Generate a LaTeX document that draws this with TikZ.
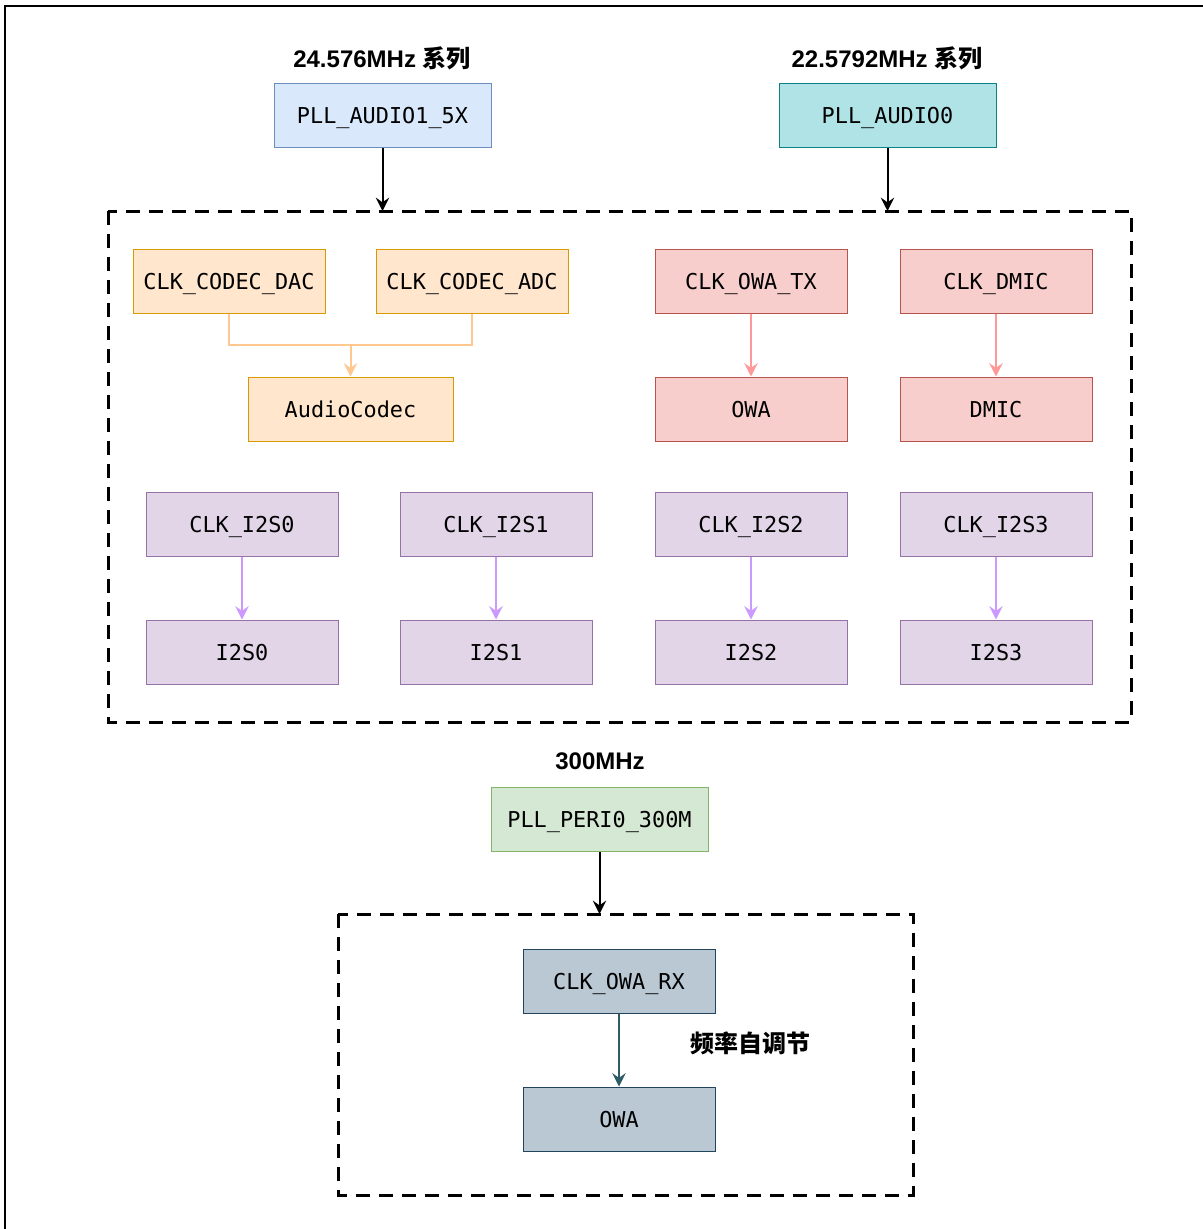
\documentclass[tikz,border=0pt]{standalone}
\usepackage{fontspec}
\setmainfont{Liberation Sans}
\setmonofont{DejaVu Sans Mono}
\newfontfamily\cjk{Noto Sans CJK SC}
\usetikzlibrary{arrows.meta}

\definecolor{blueF}{HTML}{DAE8FC}  \definecolor{blueD}{HTML}{6C8EBF}
\definecolor{tealF}{HTML}{B0E3E6}  \definecolor{tealD}{HTML}{0E8088}
\definecolor{orgF}{HTML}{FFE6CC}   \definecolor{orgD}{HTML}{D79B00}  \definecolor{orgL}{HTML}{FFC891}
\definecolor{redF}{HTML}{F8CECC}   \definecolor{redD}{HTML}{B85450}  \definecolor{redL}{HTML}{FF9999}
\definecolor{pplF}{HTML}{E1D5E7}   \definecolor{pplD}{HTML}{9673A6}  \definecolor{pplL}{HTML}{CC99FF}
\definecolor{grnF}{HTML}{D5E8D4}   \definecolor{grnD}{HTML}{82B366}
\definecolor{slateF}{HTML}{BAC8D3} \definecolor{slateD}{HTML}{23445D} \definecolor{slateL}{HTML}{2F5B66}

\tikzset{
  clkbox/.style={draw, rectangle, line width=0.75pt, minimum width=144pt, minimum height=48pt,
    inner sep=0pt, text height=12pt, text depth=0pt, font=\fontsize{16.4}{18}\selectfont\ttfamily},
  pllbox/.style={clkbox, minimum width=162.75pt},
  title/.style={font=\fontsize{18}{20}\selectfont\bfseries, inner sep=0pt},
  group/.style={line width=2.25pt, dash pattern=on 10.5pt off 6.75pt},
  tip/.style={-{Stealth[length=10pt,width=10pt,inset=3.5pt]}, line width=1.5pt},
}

\begin{document}
\begin{tikzpicture}[x=0.75pt,y=-0.75pt]
\useasboundingbox (0,0) rectangle (1203,1229);
\draw [line width=1.1pt] (5,1229) -- (5,6) -- (1203,6);

% clock sources
\node [title] (t24) at (382,58) {24.576MHz {\cjk 系列}};
\node [pllbox, fill=blueF, draw=blueD] (pllaudio1) at (382.5,115) {PLL\_AUDIO1\_5X};
\node [title] (t22) at (887,58) {22.5792MHz {\cjk 系列}};
\node [pllbox, fill=tealF, draw=tealD] (pllaudio0) at (887.5,115) {PLL\_AUDIO0};

\draw [group] (108,211) rectangle (1131,722);
\coordinate (grptop) at (108,211);
\draw [tip] (pllaudio1) -- (pllaudio1 |- grptop);
\draw [tip] (pllaudio0) -- (pllaudio0 |- grptop);

% codec
\node [clkbox, fill=orgF, draw=orgD] (codecdac) at (229,281) {CLK\_CODEC\_DAC};
\node [clkbox, fill=orgF, draw=orgD] (codecadc) at (472,281) {CLK\_CODEC\_ADC};
\node [clkbox, fill=orgF, draw=orgD, minimum width=153.75pt] (audiocodec) at (350.5,409) {AudioCodec};
\coordinate (codecjoin) at (350.5,345);
\draw [orgL, line width=1.5pt] (codecdac) |- (codecjoin) -| (codecadc);
\draw [tip, orgL] (codecjoin) -- (audiocodec);

% owa tx and dmic
\node [clkbox, fill=redF, draw=redD] (owatx) at (751,281) {CLK\_OWA\_TX};
\node [clkbox, fill=redF, draw=redD] (owa) at (751,409) {OWA};
\node [clkbox, fill=redF, draw=redD] (clkdmic) at (996,281) {CLK\_DMIC};
\node [clkbox, fill=redF, draw=redD] (dmic) at (996,409) {DMIC};
\draw [tip, redL] (owatx) -- (owa);
\draw [tip, redL] (clkdmic) -- (dmic);

% i2s
\foreach \i/\x in {0/242,1/496,2/751,3/996} {
  \node [clkbox, fill=pplF, draw=pplD] (clki2s\i) at (\x,524) {CLK\_I2S\i};
  \node [clkbox, fill=pplF, draw=pplD] (i2s\i) at (\x,652) {I2S\i};
  \draw [tip, pplL] (clki2s\i) -- (i2s\i);
}

% owa rx
\node [title] (t300) at (600,761) {300MHz};
\node [pllbox, fill=grnF, draw=grnD] (pllperi) at (599.5,819) {PLL\_PERI0\_300M};
\draw [group] (338,914) rectangle (913,1195);
\coordinate (rxtop) at (338,914);
\draw [tip] (pllperi) -- (pllperi |- rxtop);

\node [clkbox, fill=slateF, draw=slateD] (owarx) at (619,981) {CLK\_OWA\_RX};
\node [clkbox, fill=slateF, draw=slateD] (owa2) at (619,1119) {OWA};
\draw [tip, slateL] (owarx) -- (owa2);
\node [title] (selfadj) at (750,1043) {\cjk 频率自调节};

\end{tikzpicture}
\end{document}
